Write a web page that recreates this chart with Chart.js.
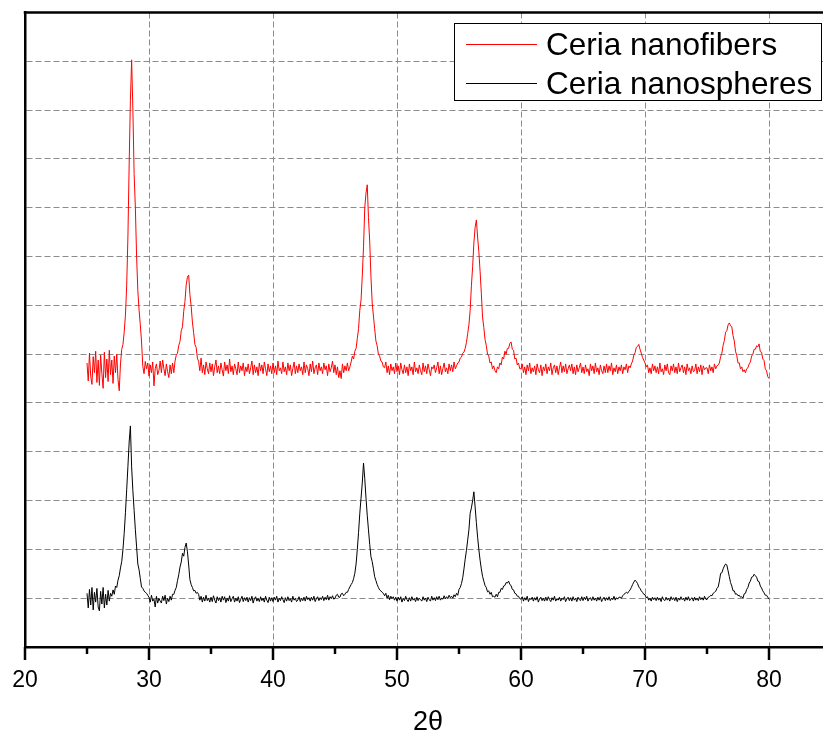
<!DOCTYPE html>
<html><head><meta charset="utf-8">
<script src="https://cdn.jsdelivr.net/npm/chart.js@4.4.1/dist/chart.umd.min.js"></script>
<style>
html,body{margin:0;padding:0;overflow:hidden;background:#fff;width:823px;height:742px}
canvas{display:block}
</style></head>
<body>
<canvas id="c" width="835" height="742"></canvas>
<script>
// ---- data ----
const seriesNames = ['Ceria nanofibers', 'Ceria nanospheres'];
const xTickLabels = [20, 30, 40, 50, 60, 70, 80];
const xAxisTitle = '2\u03B8';

const theta = [
25.0,25.1,25.2,25.3,25.4,25.5,25.6,25.7,25.8,25.9, 26.0,26.1,26.2,26.3,26.4,26.5,26.6,26.7,26.8,26.9,
27.0,27.1,27.2,27.3,27.4,27.5,27.6,27.7,27.8,27.9, 28.0,28.1,28.2,28.3,28.4,28.5,28.6,28.7,28.8,28.9,
29.0,29.1,29.2,29.3,29.4,29.5,29.6,29.7,29.8,29.9, 30.0,30.1,30.2,30.3,30.4,30.5,30.6,30.7,30.8,30.9,
31.0,31.1,31.2,31.3,31.4,31.5,31.6,31.7,31.8,31.9, 32.0,32.1,32.2,32.3,32.4,32.5,32.6,32.7,32.8,32.9,
33.0,33.1,33.2,33.3,33.4,33.5,33.6,33.7,33.8,33.9, 34.0,34.1,34.2,34.3,34.4,34.5,34.6,34.7,34.8,34.9,
35.0,35.1,35.2,35.3,35.4,35.5,35.6,35.7,35.8,35.9, 36.0,36.1,36.2,36.3,36.4,36.5,36.6,36.7,36.8,36.9,
37.0,37.1,37.2,37.3,37.4,37.5,37.6,37.7,37.8,37.9, 38.0,38.1,38.2,38.3,38.4,38.5,38.6,38.7,38.8,38.9,
39.0,39.1,39.2,39.3,39.4,39.5,39.6,39.7,39.8,39.9, 40.0,40.1,40.2,40.3,40.4,40.5,40.6,40.7,40.8,40.9,
41.0,41.1,41.2,41.3,41.4,41.5,41.6,41.7,41.8,41.9, 42.0,42.1,42.2,42.3,42.4,42.5,42.6,42.7,42.8,42.9,
43.0,43.1,43.2,43.3,43.4,43.5,43.6,43.7,43.8,43.9, 44.0,44.1,44.2,44.3,44.4,44.5,44.6,44.7,44.8,44.9,
45.0,45.1,45.2,45.3,45.4,45.5,45.6,45.7,45.8,45.9, 46.0,46.1,46.2,46.3,46.4,46.5,46.6,46.7,46.8,46.9,
47.0,47.1,47.2,47.3,47.4,47.5,47.6,47.7,47.8,47.9, 48.0,48.1,48.2,48.3,48.4,48.5,48.6,48.7,48.8,48.9,
49.0,49.1,49.2,49.3,49.4,49.5,49.6,49.7,49.8,49.9, 50.0,50.1,50.2,50.3,50.4,50.5,50.6,50.7,50.8,50.9,
51.0,51.1,51.2,51.3,51.4,51.5,51.6,51.7,51.8,51.9, 52.0,52.1,52.2,52.3,52.4,52.5,52.6,52.7,52.8,52.9,
53.0,53.1,53.2,53.3,53.4,53.5,53.6,53.7,53.8,53.9, 54.0,54.1,54.2,54.3,54.4,54.5,54.6,54.7,54.8,54.9,
55.0,55.1,55.2,55.3,55.4,55.5,55.6,55.7,55.8,55.9, 56.0,56.1,56.2,56.3,56.4,56.5,56.6,56.7,56.8,56.9,
57.0,57.1,57.2,57.3,57.4,57.5,57.6,57.7,57.8,57.9, 58.0,58.1,58.2,58.3,58.4,58.5,58.6,58.7,58.8,58.9,
59.0,59.1,59.2,59.3,59.4,59.5,59.6,59.7,59.8,59.9, 60.0,60.1,60.2,60.3,60.4,60.5,60.6,60.7,60.8,60.9,
61.0,61.1,61.2,61.3,61.4,61.5,61.6,61.7,61.8,61.9, 62.0,62.1,62.2,62.3,62.4,62.5,62.6,62.7,62.8,62.9,
63.0,63.1,63.2,63.3,63.4,63.5,63.6,63.7,63.8,63.9, 64.0,64.1,64.2,64.3,64.4,64.5,64.6,64.7,64.8,64.9,
65.0,65.1,65.2,65.3,65.4,65.5,65.6,65.7,65.8,65.9, 66.0,66.1,66.2,66.3,66.4,66.5,66.6,66.7,66.8,66.9,
67.0,67.1,67.2,67.3,67.4,67.5,67.6,67.7,67.8,67.9, 68.0,68.1,68.2,68.3,68.4,68.5,68.6,68.7,68.8,68.9,
69.0,69.1,69.2,69.3,69.4,69.5,69.6,69.7,69.8,69.9, 70.0,70.1,70.2,70.3,70.4,70.5,70.6,70.7,70.8,70.9,
71.0,71.1,71.2,71.3,71.4,71.5,71.6,71.7,71.8,71.9, 72.0,72.1,72.2,72.3,72.4,72.5,72.6,72.7,72.8,72.9,
73.0,73.1,73.2,73.3,73.4,73.5,73.6,73.7,73.8,73.9, 74.0,74.1,74.2,74.3,74.4,74.5,74.6,74.7,74.8,74.9,
75.0,75.1,75.2,75.3,75.4,75.5,75.6,75.7,75.8,75.9, 76.0,76.1,76.2,76.3,76.4,76.5,76.6,76.7,76.8,76.9,
77.0,77.1,77.2,77.3,77.4,77.5,77.6,77.7,77.8,77.9, 78.0,78.1,78.2,78.3,78.4,78.5,78.6,78.7,78.8,78.9,
79.0,79.1,79.2,79.3,79.4,79.5,79.6,79.7,79.8,79.9, 80.0
];

const nanofibers = [
5.82,5.45,6.02,5.55,5.38,5.95,5.62,6.06,5.42,5.88, 5.36,5.98,5.60,5.30,6.04,5.52,5.90,5.44,6.08,5.58,
5.88,5.40,5.96,5.62,6.00,5.48,5.25,5.80,6.10,6.20, 6.45,6.80,7.40,8.40,9.90,11.2,12.03,11.0,9.70,9.00,
8.00,7.30,6.90,6.60,6.25,5.75,5.60,5.85,5.70,5.82, 5.55,5.78,5.62,5.84,5.35,5.70,5.80,5.58,5.66,5.86,
5.62,5.88,5.70,5.56,5.80,5.64,5.52,5.78,5.60,5.82, 5.62,5.86,5.98,6.02,6.18,6.26,6.48,6.56,6.88,7.08,
7.42,7.58,7.62,7.22,6.98,6.66,6.44,6.20,6.14,5.92, 5.85,5.66,5.92,5.62,5.78,5.58,5.84,5.70,5.60,5.82,
5.64,5.80,5.56,5.74,5.88,5.62,5.76,5.60,5.82,5.68, 5.55,5.84,5.66,5.78,5.60,5.90,5.64,5.76,5.58,5.80,
5.70,5.58,5.84,5.62,5.76,5.66,5.82,5.56,5.74,5.64, 5.80,5.60,5.72,5.86,5.58,5.78,5.62,5.74,5.56,5.82,
5.66,5.78,5.60,5.84,5.70,5.56,5.80,5.64,5.76,5.60, 5.82,5.62,5.76,5.58,5.86,5.66,5.72,5.60,5.84,5.64,
5.74,5.58,5.82,5.66,5.78,5.56,5.70,5.84,5.60,5.76, 5.62,5.80,5.66,5.74,5.58,5.84,5.62,5.78,5.70,5.56,
5.80,5.64,5.86,5.60,5.72,5.78,5.58,5.82,5.66,5.74, 5.60,5.82,5.68,5.76,5.56,5.80,5.64,5.72,5.86,5.62,
5.78,5.58,5.74,5.52,5.66,5.50,5.80,5.62,5.76,5.66, 5.82,5.66,5.74,5.84,5.96,5.90,6.06,6.12,6.32,6.52,
6.90,7.11,7.60,8.20,9.00,9.30,9.47,8.80,8.30,7.58, 7.05,6.78,6.52,6.27,6.17,6.00,5.96,5.86,5.84,5.74,
5.72,5.84,5.62,5.76,5.58,5.80,5.66,5.74,5.60,5.82, 5.64,5.76,5.58,5.82,5.68,5.60,5.78,5.62,5.74,5.56,
5.80,5.66,5.74,5.58,5.84,5.64,5.72,5.60,5.78,5.66, 5.58,5.82,5.64,5.76,5.60,5.80,5.68,5.56,5.74,5.70,
5.78,5.62,5.72,5.84,5.60,5.76,5.58,5.70,5.82,5.64, 5.72,5.60,5.80,5.66,5.78,5.64,5.84,5.70,5.76,5.82,
5.84,5.92,5.94,6.02,6.04,6.12,6.24,6.42,6.60,6.90, 7.40,7.79,8.28,8.60,8.75,8.40,8.10,7.70,7.25,6.76,
6.55,6.30,6.18,6.00,5.96,5.82,5.84,5.70,5.76,5.66, 5.62,5.74,5.70,5.82,5.78,5.94,5.90,6.06,6.00,6.12,
6.12,6.22,6.25,6.10,6.08,5.90,5.92,5.78,5.82,5.70, 5.70,5.80,5.62,5.74,5.58,5.78,5.66,5.82,5.60,5.72,
5.64,5.76,5.58,5.80,5.68,5.62,5.78,5.56,5.74,5.66, 5.80,5.60,5.74,5.66,5.82,5.58,5.72,5.78,5.62,5.76,
5.58,5.72,5.84,5.62,5.76,5.64,5.80,5.60,5.70,5.78, 5.66,5.80,5.60,5.74,5.58,5.78,5.64,5.72,5.82,5.62,
5.74,5.60,5.78,5.64,5.70,5.56,5.80,5.66,5.76,5.60, 5.82,5.64,5.72,5.58,5.78,5.66,5.60,5.76,5.62,5.80,
5.62,5.76,5.66,5.82,5.58,5.72,5.64,5.78,5.60,5.74, 5.66,5.78,5.60,5.74,5.68,5.80,5.62,5.76,5.72,5.80,
5.86,5.98,6.03,6.14,6.16,6.20,6.10,6.02,5.93,5.88, 5.82,5.74,5.78,5.62,5.72,5.60,5.80,5.66,5.76,5.62,
5.74,5.60,5.82,5.64,5.70,5.58,5.78,5.66,5.80,5.62, 5.58,5.76,5.66,5.80,5.62,5.74,5.60,5.82,5.64,5.72,
5.78,5.62,5.74,5.58,5.80,5.66,5.72,5.60,5.76,5.64, 5.66,5.80,5.60,5.74,5.64,5.78,5.58,5.76,5.68,5.72,
5.72,5.60,5.78,5.66,5.74,5.62,5.80,5.70,5.76,5.78, 5.82,5.95,6.02,6.18,6.28,6.45,6.48,6.60,6.64,6.58,
6.56,6.38,6.27,6.06,5.97,5.82,5.82,5.70,5.74,5.64, 5.68,5.62,5.70,5.72,5.80,5.84,5.96,6.00,6.10,6.10,
6.17,6.15,6.21,6.05,6.04,5.90,5.87,5.70,5.66,5.54, 5.50
];

const nanospheres = [
1.10,0.80,1.18,0.86,1.22,0.76,1.12,0.92,1.20,0.82, 0.74,1.14,0.88,1.22,0.80,1.08,0.86,1.16,0.94,1.10,
1.04,1.17,1.08,1.25,1.22,1.37,1.46,1.62,1.75,2.00, 2.33,2.75,3.22,3.70,4.20,4.53,3.69,3.20,2.80,2.40,
2.05,1.70,1.58,1.40,1.23,1.20,1.15,1.12,1.10,1.06, 1.02,0.92,1.06,0.94,0.98,0.82,1.04,0.90,1.00,0.94,
0.90,1.04,0.95,1.06,0.88,1.00,0.93,1.04,0.96,1.08, 1.08,1.16,1.22,1.36,1.48,1.64,1.74,1.92,1.86,2.04,
2.13,1.95,1.68,1.38,1.28,1.22,1.15,1.16,1.10,1.12, 1.08,0.96,1.04,0.92,1.02,0.94,1.06,0.95,1.00,0.92,
1.02,0.93,1.05,0.96,0.90,1.03,0.95,1.01,0.92,1.04, 0.96,1.03,0.91,1.00,0.94,1.05,0.93,0.99,1.04,0.92,
1.00,0.94,1.03,0.91,0.98,1.04,0.93,1.01,0.95,1.02, 0.92,1.01,0.95,1.04,0.90,0.99,1.03,0.94,1.00,0.93,
1.03,0.95,1.00,0.92,1.04,0.96,0.91,1.02,0.94,1.01, 0.93,1.02,0.96,1.04,0.92,1.00,0.95,1.03,0.97,0.91,
1.01,0.94,1.03,0.95,0.99,0.92,1.04,0.96,1.00,0.93, 0.96,1.03,0.93,1.00,0.95,1.02,0.94,1.04,0.97,1.01,
0.94,1.02,0.96,1.04,0.93,0.99,1.03,0.95,1.01,0.97, 1.04,0.95,1.02,0.97,1.06,0.96,1.03,0.99,1.05,0.98,
1.00,1.06,1.08,1.02,1.02,1.09,1.10,1.05,1.08,1.12, 1.12,1.18,1.23,1.28,1.32,1.40,1.51,1.70,2.00,2.35,
2.74,3.05,3.36,3.77,3.45,3.05,2.70,2.40,2.10,1.85, 1.75,1.60,1.44,1.36,1.28,1.22,1.17,1.15,1.12,1.10,
1.05,1.10,1.00,1.06,0.97,1.04,0.99,1.03,0.96,1.02, 0.94,1.02,0.96,1.03,0.92,1.00,0.95,1.04,0.97,0.93,
1.01,0.94,1.03,0.96,0.99,0.93,1.02,0.95,1.00,0.97, 0.94,1.03,0.96,1.00,0.93,1.02,0.97,0.94,1.04,0.96,
1.01,0.95,1.03,0.97,1.04,0.96,1.00,0.98,1.05,0.99, 1.03,0.99,1.06,1.01,1.04,1.00,1.07,1.03,1.10,1.06,
1.18,1.22,1.30,1.42,1.60,1.80,1.98,2.19,2.40,2.74, 2.85,3.00,3.18,2.87,2.55,2.25,2.00,1.78,1.60,1.45,
1.35,1.26,1.22,1.13,1.15,1.08,1.12,1.03,1.04,1.02, 1.08,1.03,1.12,1.12,1.20,1.18,1.25,1.26,1.32,1.31,
1.35,1.28,1.26,1.18,1.17,1.10,1.09,1.04,1.04,0.99, 0.98,1.03,0.94,1.01,0.96,1.04,0.93,1.00,0.97,1.02,
0.94,1.01,0.96,1.03,0.92,0.99,1.02,0.95,1.00,0.94, 1.02,0.95,1.03,0.97,0.93,1.01,0.96,1.04,0.94,0.99,
0.96,1.02,0.94,1.00,0.97,1.03,0.93,0.99,1.02,0.95, 1.01,0.94,1.03,0.96,1.00,0.93,1.02,0.97,0.95,1.03,
0.95,1.02,0.97,1.04,0.94,0.99,1.01,0.95,1.03,0.96, 1.00,0.94,1.02,0.96,1.03,0.93,0.98,1.02,0.95,1.01,
0.96,1.03,0.95,1.00,0.97,1.04,0.96,1.01,0.98,1.02, 1.02,1.00,1.05,1.08,1.10,1.12,1.10,1.14,1.17,1.22,
1.28,1.33,1.37,1.34,1.30,1.23,1.20,1.15,1.12,1.08, 1.07,1.01,1.03,0.96,1.00,0.94,1.02,0.97,1.01,0.95,
1.02,0.96,1.00,0.93,1.03,0.97,0.95,1.02,0.96,1.00, 0.94,1.03,0.97,1.01,0.95,1.02,0.93,1.00,0.96,1.03,
0.97,1.00,0.94,1.02,0.96,1.03,0.95,0.99,1.01,0.94, 1.02,0.96,1.00,0.95,1.03,0.97,1.01,0.96,1.04,0.98,
0.97,1.02,1.03,1.06,1.05,1.10,1.12,1.14,1.20,1.23, 1.35,1.51,1.52,1.60,1.66,1.70,1.68,1.56,1.44,1.32,
1.25,1.15,1.15,1.08,1.09,1.05,1.06,1.02,1.03,1.00, 1.09,1.10,1.18,1.22,1.31,1.35,1.43,1.44,1.49,1.46,
1.43,1.35,1.34,1.25,1.21,1.15,1.11,1.06,1.06,1.02, 0.98
];

const seriesColors = ['#ff0000', '#000000'];

// ---- chart ----
const FONT = "'Liberation Sans', Arial, sans-serif";

const framePlugin = {
  id: 'frame',
  afterDraw(chart) {
    const ctx = chart.ctx;
    const a = chart.chartArea;
    const xs = chart.scales.x;
    ctx.save();
    ctx.strokeStyle = '#000';
    ctx.lineWidth = 2.5;
    ctx.beginPath();
    ctx.moveTo(a.left - 1.25, a.top);
    ctx.lineTo(chart.width, a.top);
    ctx.stroke();
    for (let v = xs.min; v <= xs.max; v += 5) {
      const px = xs.getPixelForValue(v);
      const len = xTickLabels.includes(v) ? 13 : 7;
      ctx.beginPath();
      ctx.moveTo(px, a.bottom);
      ctx.lineTo(px, a.bottom + len);
      ctx.stroke();
    }
    ctx.restore();
  }
};

const legendPlugin = {
  id: 'boxLegend',
  afterDraw(chart) {
    const ctx = chart.ctx;
    const box = {x: 454.5, y: 23.5, w: 367, h: 77};
    ctx.save();
    ctx.fillStyle = '#fff';
    ctx.fillRect(box.x, box.y, box.w, box.h);
    ctx.strokeStyle = '#000';
    ctx.lineWidth = 1;
    ctx.strokeRect(box.x, box.y, box.w, box.h);
    ctx.font = '31.5px ' + FONT;
    ctx.textBaseline = 'alphabetic';
    ctx.textAlign = 'left';
    chart.data.datasets.forEach((ds, i) => {
      const cy = 44.5 + i * 39;
      ctx.strokeStyle = ds.borderColor;
      ctx.lineWidth = 1;
      ctx.beginPath();
      ctx.moveTo(466, cy);
      ctx.lineTo(537, cy);
      ctx.stroke();
      ctx.fillStyle = '#000';
      ctx.fillText(ds.label, 546, cy + 10.5);
    });
    ctx.restore();
  }
};

new Chart(document.getElementById('c'), {
  type: 'line',
  data: {
    datasets: [
      { label: seriesNames[0], data: theta.map((t, i) => ({x: t, y: nanofibers[i]})),
        borderColor: seriesColors[0], backgroundColor: seriesColors[0], borderWidth: 1,
        pointRadius: 0, tension: 0, fill: false },
      { label: seriesNames[1], data: theta.map((t, i) => ({x: t, y: nanospheres[i]})),
        borderColor: seriesColors[1], backgroundColor: seriesColors[1], borderWidth: 1,
        pointRadius: 0, tension: 0, fill: false }
    ]
  },
  options: {
    responsive: false,
    animation: false,
    events: [],
    layout: { padding: { top: 12.5, right: 4, left: 0, bottom: 0 } },
    plugins: { legend: { display: false }, tooltip: { enabled: false } },
    scales: {
      x: {
        type: 'linear', min: 20, max: 85,
        afterFit(s) { s.height = 95; s.paddingLeft = 0; s.paddingRight = 0; },
        ticks: {
          stepSize: 5, autoSkip: false, maxRotation: 0, padding: 20,
          color: '#000', font: { family: FONT, size: 23 },
          callback: v => (xTickLabels.includes(v) ? String(v) : '')
        },
        grid: {
          drawTicks: false, lineWidth: 1,
          color: c => (c.tick && xTickLabels.includes(c.tick.value) && c.tick.value > 20) ? '#8c8c8c' : 'rgba(0,0,0,0)'
        },
        border: { display: true, color: '#000', width: 2.5, dash: [6, 3] },
        title: { display: true, text: xAxisTitle, color: '#000',
                 font: { family: FONT, size: 27 }, padding: { top: 0, bottom: 3 } }
      },
      y: {
        type: 'linear', min: 0, max: 13,
        afterFit(s) { s.width = 25; s.paddingTop = 0; s.paddingBottom = 0; },
        ticks: { display: false, stepSize: 1 },
        grid: {
          drawTicks: false, lineWidth: 1,
          color: c => (c.tick && c.tick.value > 0 && c.tick.value < 13) ? '#8c8c8c' : 'rgba(0,0,0,0)'
        },
        border: { display: true, color: '#000', width: 2.5, dash: [6, 3] }
      }
    }
  },
  plugins: [framePlugin, legendPlugin]
});
</script>
</body></html>
